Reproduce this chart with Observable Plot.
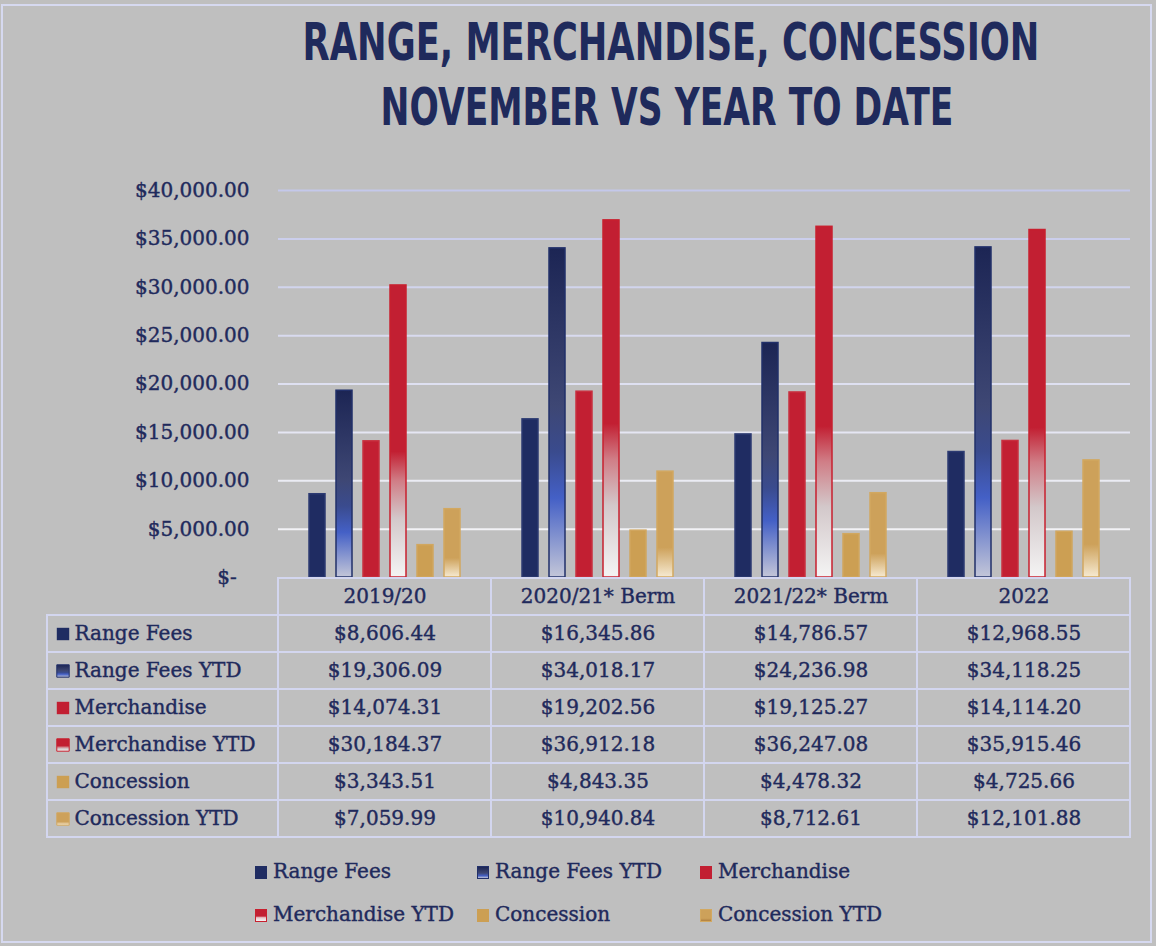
<!DOCTYPE html>
<html>
<head>
<meta charset="utf-8">
<script src="https://cdn.jsdelivr.net/npm/d3@7"></script>
<script src="https://cdn.jsdelivr.net/npm/@observablehq/plot@0.6"></script>
<style>
  html, body { margin: 0; padding: 0; background: #bfbfbf; }
  #wrap { position: relative; width: 1156px; height: 946px; background: #bfbfbf; overflow: hidden; }
  #frame { position: absolute; left: 1px; top: 4px; width: 1151px; height: 939px; border: 2px solid #d6d9f0; box-sizing: border-box; pointer-events: none; }
  .abs { position: absolute; }
  .plotbox svg text { stroke: #1f2a5c; stroke-width: 0.4px; }
  .leg { position: absolute; font-family: "DejaVu Serif", serif; font-size: 20px; color: #1f2a5c; white-space: nowrap; line-height: 24px; -webkit-text-stroke: 0.4px #1f2a5c; }
  .sw { display: inline-block; width: 12px; height: 13px; margin-right: 6px; vertical-align: -1px; box-sizing: border-box; }
</style>
</head>
<body>
<div id="wrap">
  <svg width="0" height="0" style="position:absolute">
    <defs>
      <linearGradient id="grfytd" x1="0" y1="0" x2="0" y2="1">
        <stop offset="0" stop-color="#1c2554"/>
        <stop offset="0.48" stop-color="#3e4774"/>
        <stop offset="0.62" stop-color="#3a4b8e"/>
        <stop offset="0.76" stop-color="#4460c6"/>
        <stop offset="1" stop-color="#c3c6d8"/>
      </linearGradient>
      <linearGradient id="gmytd" x1="0" y1="0" x2="0" y2="1">
        <stop offset="0" stop-color="#c21f32"/>
        <stop offset="0.57" stop-color="#c21f32"/>
        <stop offset="0.67" stop-color="#d07d86"/>
        <stop offset="0.8" stop-color="#d3c8ca"/>
        <stop offset="1" stop-color="#f4f4f4"/>
      </linearGradient>
      <linearGradient id="gcytd" x1="0" y1="0" x2="0" y2="1">
        <stop offset="0" stop-color="#cda15a"/>
        <stop offset="0.72" stop-color="#cda15a"/>
        <stop offset="1" stop-color="#f6ead2"/>
      </linearGradient>
    </defs>
  </svg>
  <svg id="title" class="abs" style="left:0;top:0" width="1156" height="150">
    <text id="t1" font-family="DejaVu Sans" font-weight="bold" font-size="52" fill="#1f2a5c" text-anchor="middle">RANGE, MERCHANDISE, CONCESSION</text>
    <text id="t2" font-family="DejaVu Sans" font-weight="bold" font-size="52" fill="#1f2a5c" text-anchor="middle">NOVEMBER VS YEAR TO DATE</text>
  </svg>
  <div id="chart" class="abs plotbox" style="left:0;top:150px"></div>
  <div id="tlabels" class="abs plotbox" style="left:0;top:576px"></div>
  <div id="tdata" class="abs plotbox" style="left:268px;top:576px"></div>
  <div id="legend"></div>
  <div id="frame"></div>
</div>
<script>
// ---------- data ----------
const categories = ["2019/20", "2020/21* Berm", "2021/22* Berm", "2022"];
const series = ["Range Fees", "Range Fees YTD", "Merchandise", "Merchandise YTD", "Concession", "Concession YTD"];
const rangeFees      = [8606.44, 16345.86, 14786.57, 12968.55];
const rangeFeesYTD   = [19306.09, 34018.17, 24236.98, 34118.25];
const merchandise    = [14074.31, 19202.56, 19125.27, 14114.20];
const merchandiseYTD = [30184.37, 36912.18, 36247.08, 35915.46];
const concession     = [3343.51, 4843.35, 4478.32, 4725.66];
const concessionYTD  = [7059.99, 10940.84, 8712.61, 12101.88];
const yTicks = [0, 5000, 10000, 15000, 20000, 25000, 30000, 35000, 40000];

// ---------- title (condensed by horizontal scaling) ----------
[["t1", 671, 60, 737], ["t2", 667, 125, 573]].forEach(([id, cx, y, w]) => {
  const t = document.getElementById(id);
  const nat = t.getComputedTextLength();
  t.setAttribute("transform", `translate(${cx},${y}) scale(${w / nat},1)`);
});

// ---------- styles ----------
const navy = "#1f2a5c";
const border = "#d3d6ef";
const seriesValues = [rangeFees, rangeFeesYTD, merchandise, merchandiseYTD, concession, concessionYTD];
const seriesFill = ["#1f2c62", "url(#grfytd)", "#c21f32", "url(#gmytd)", "#cc9f53", "url(#gcytd)"];
const seriesStroke = ["#2c3a72", "#22306a", "#c8303f", "#c8202f", "#d1a75f", "#d2a860"];
const seriesCss = ["#1f2c62", "linear-gradient(#1c2554 0%, #3e4774 55%, #4460c6 80%, #c3c6d8 100%)", "#c21f32",
  "linear-gradient(#c21f32 0%, #c21f32 55%, #e8c8cc 70%, #f4f4f4 100%)", "#cc9f53", "linear-gradient(#cda15a 0%, #cda15a 75%, #b08040 100%)"];
const seriesSwBorder = ["none", "1px solid #22306a", "none", "1.5px solid #c8202f", "none", "1px solid #d2a860"];

const rows = [];
series.forEach((s, i) => categories.forEach((c, j) => rows.push({series: s, cat: c, value: seriesValues[i][j]})));

const money = d3.format(",.2f");
const fmtTick = d => d === 0 ? "$-  " : "$" + money(d);
const fmtVal = d => "$" + money(d);
const gridColor = d3.scaleLinear().domain([5000, 40000]).range(["#f2f2f6", "#c4c8ea"]);

// ---------- chart ----------
const chart = Plot.plot({
  width: 1156, height: 442,
  marginTop: 40, marginBottom: 15, marginLeft: 278, marginRight: 26,
  style: {background: "transparent", fontFamily: "DejaVu Serif", fontSize: "20px", color: navy, overflow: "visible"},
  fx: {domain: categories, padding: 0, axis: null},
  x: {domain: series, paddingInner: 0.4, paddingOuter: 1.05, axis: null},
  y: {domain: [0, 40000], ticks: yTicks, tickFormat: fmtTick, tickSize: 0, tickPadding: 29, label: null},
  marks: [
    ...yTicks.filter(v => v > 0).map(v => Plot.ruleY([v], {stroke: gridColor(v), strokeWidth: 2})),
    ...series.map((s, i) => Plot.barY(rows.filter(d => d.series === s), {
      fx: "cat", x: "series", y: "value", fill: seriesFill[i], stroke: seriesStroke[i], strokeWidth: 1.5
    }))
  ]
});
document.getElementById("chart").appendChild(chart);

// ---------- table ----------
const tableRows = ["hdr", ...series];
const tblHeight = 263;

const labelsPlot = Plot.plot({
  width: 288, height: tblHeight, marginTop: 2, marginBottom: 2, marginLeft: 47, marginRight: 10,
  style: {background: "transparent", fontFamily: "DejaVu Serif", fontSize: "20px", color: navy, overflow: "visible"},
  x: {axis: null},
  y: {domain: tableRows, padding: 0, axis: null},
  marks: [
    Plot.cell(series, {y: d => d, fill: "none", stroke: border, strokeWidth: 2}),
    ...series.map((s, i) => Plot.dot([s], {y: d => d, frameAnchor: "left", dx: 15.5, symbol: "square", r: 7, fill: seriesFill[i], stroke: i % 2 ? seriesStroke[i] : "none", strokeWidth: 1})),
    Plot.text(series, {y: d => d, text: d => d, frameAnchor: "left", dx: 27, textAnchor: "start", fontSize: 20, fill: navy})
  ]
});
document.getElementById("tlabels").appendChild(labelsPlot);

const headerCells = categories.map(c => ({cat: c, row: "hdr"}));
const dataPlot = Plot.plot({
  width: 888, height: tblHeight, marginTop: 2, marginBottom: 2, marginLeft: 10, marginRight: 26,
  style: {background: "transparent", fontFamily: "DejaVu Serif", fontSize: "20px", color: navy, overflow: "visible"},
  x: {domain: categories, padding: 0, axis: null},
  y: {domain: tableRows, padding: 0, axis: null},
  marks: [
    Plot.cell(headerCells, {x: "cat", y: "row", fill: "none", stroke: border, strokeWidth: 2}),
    Plot.cell(rows, {x: "cat", y: "series", fill: "none", stroke: border, strokeWidth: 2}),
    Plot.text(headerCells, {x: "cat", y: "row", text: "cat", fontSize: 20, fill: navy}),
    Plot.text(rows, {x: "cat", y: "series", text: d => fmtVal(d.value), fontSize: 20, fill: navy})
  ]
});
document.getElementById("tdata").appendChild(dataPlot);

// ---------- legend ----------
const legend = document.getElementById("legend");
const legCols = [255, 477, 700];
const legRows = [859, 902];
series.forEach((s, i) => {
  const el = document.createElement("div");
  el.className = "leg";
  el.style.left = legCols[i % 3] + "px";
  el.style.top = legRows[Math.floor(i / 3)] + "px";
  const sw = document.createElement("span");
  sw.className = "sw";
  sw.style.background = seriesCss[i];
  sw.style.border = seriesSwBorder[i];
  el.appendChild(sw);
  el.appendChild(document.createTextNode(s));
  legend.appendChild(el);
});
</script>
</body>
</html>
